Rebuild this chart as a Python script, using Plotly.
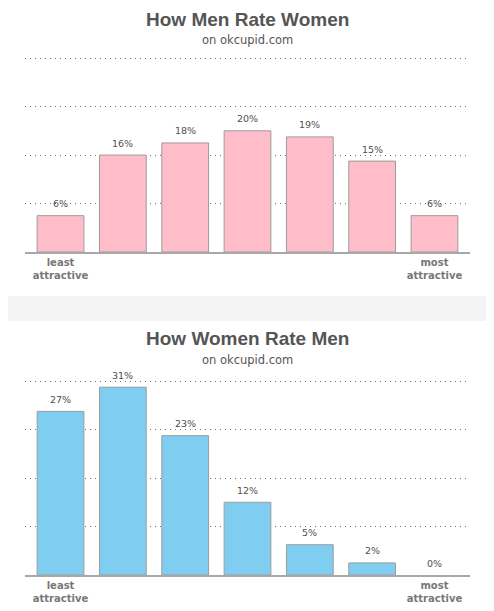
import plotly.graph_objects as go
from plotly.subplots import make_subplots

RATINGS = [1, 2, 3, 4, 5, 6, 7]
TICK_LABELS = ["least<br>attractive", "", "", "", "", "", "most<br>attractive"]
MEN_RATE_WOMEN = [6, 16, 18, 20, 19, 15, 6]
WOMEN_RATE_MEN = [27, 31, 23, 12, 5, 2, 0]
TITLES = ["How Men Rate Women", "How Women Rate Men"]
SUBTITLE = "on okcupid.com"

# the page body keeps its default 8px margin, so the figure is sized to
# fill the rest of the window and page pixels are shifted by that offset
OFFSET = 8
WIDTH = 494 - OFFSET
HEIGHT = 611 - OFFSET


def py(px):
    # page pixel row -> paper y
    return 1 - (px - OFFSET) / HEIGHT


def px_x(px):
    # page pixel column -> paper x
    return (px - OFFSET) / WIDTH


fig = make_subplots(rows=2, cols=1)

# values, colour, subplot row, title top (page px), subtitle top (page px)
panels = [
    (MEN_RATE_WOMEN, "#ffbdc9", 1, 8, 32),
    (WOMEN_RATE_MEN, "#80cdf2", 2, 327, 352),
]

for (values, color, row, title_top, sub_top), title in zip(panels, TITLES):
    fig.add_trace(
        go.Bar(
            x=RATINGS,
            y=values,
            marker=dict(
                color=color,
                line=dict(color="#9c9c9c", width=[1 if v else 0 for v in values]),
            ),
            width=0.75,
            hoverinfo="skip",
            showlegend=False,
        ),
        row=row,
        col=1,
    )
    suffix = str(row) if row > 1 else ""
    for x, v in zip(RATINGS, values):
        fig.add_annotation(
            x=x, y=v, text=f"{v}%", showarrow=False, yshift=12,
            font=dict(family="DejaVu Sans", size=9.5, color="#505050"),
            xref="x" + suffix, yref="y" + suffix,
        )
    fig.add_annotation(
        x=px_x(247), y=py(title_top), xref="paper", yref="paper", text=title,
        showarrow=False, yanchor="top", borderpad=0,
        font=dict(family="Liberation Sans, Arial", size=19, color="#555555", weight="bold"),
    )
    fig.add_annotation(
        x=px_x(247), y=py(sub_top), xref="paper", yref="paper", text=SUBTITLE,
        showarrow=False, yanchor="top", borderpad=0,
        font=dict(family="DejaVu Sans", size=11.5, color="#555555"),
    )

axis_x = dict(
    range=[0.43, 7.57],
    domain=[px_x(25), px_x(470)],
    tickvals=RATINGS,
    ticktext=TICK_LABELS,
    showgrid=False,
    zeroline=False,
    showline=True,
    linecolor="#a8a8a8",
    linewidth=2,
    ticks="",
    tickfont=dict(family="DejaVu Sans", size=10, color="#777777", weight="bold"),
    fixedrange=True,
)
axis_y = dict(
    range=[0, 32.3],
    tickvals=[8, 16, 24, 32],
    showticklabels=False,
    showgrid=True,
    gridcolor="#6e6e6e",
    griddash="1px,4px",
    gridwidth=1,
    zeroline=False,
    showline=False,
    fixedrange=True,
)

fig.update_layout(
    xaxis=axis_x,
    xaxis2=axis_x,
    yaxis=dict(axis_y, domain=[py(252), py(56.3)]),
    yaxis2=dict(axis_y, domain=[py(575), py(379.3)]),
    width=WIDTH,
    height=HEIGHT,
    margin=dict(l=0, r=0, t=0, b=0),
    paper_bgcolor="white",
    plot_bgcolor="rgba(0,0,0,0)",
    bargap=0.25,
    shapes=[
        dict(
            type="rect", xref="paper", yref="paper",
            x0=0, x1=px_x(488), y0=py(321), y1=py(296),
            fillcolor="#f3f3f3", line=dict(width=0), layer="below",
        )
    ],
)

fig.write_html("out.html")
